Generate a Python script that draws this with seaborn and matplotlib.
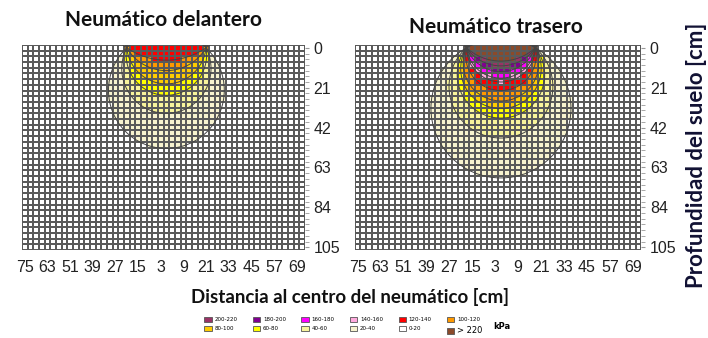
import numpy as np
import matplotlib
matplotlib.use('Agg')
import matplotlib.pyplot as plt
from matplotlib.colors import ListedColormap
from matplotlib.patches import Patch, Ellipse
import seaborn as sns

# model grid (cm): 50 columns across, 36 rows down
x_cm = np.arange(-75, 75, 3)
z_cm = np.arange(0, 108, 3)

x_ticks_cm = [-75, -63, -51, -39, -27, -15, -3, 9, 21, 33, 45, 57, 69]
x_tick_labels = ['75', '63', '51', '39', '27', '15', '3', '9', '21', '33', '45', '57', '69']
y_ticks_cm = [0, 21, 42, 63, 84, 105]

classes = ['0-20', '20-40', '40-60', '60-80', '80-100', '100-120',
           '120-140', '140-160', '160-180', '180-200', '200-220', '> 220']
class_colors = ['#ffffff', '#f7f3cf', '#f8f49c', '#ffff00', '#ffcc00', '#ff9900',
                '#ff0000', '#ffaadd', '#ff00ff', '#800090', '#993366', '#8b4a2a']

# isobars: half-width of the loaded strip and
# bottom depth of each bulb (20 kPa upward), all in cm
front_edge = 21
front_bottoms = [53, 34.5, 25, 19, 12, 6.5]
rear_edge = 18
rear_bottoms = [68.5, 47.5, 37, 32, 28, 22.5, 18, 16, 12.5, 9.5, 7]


def bulbs(edge, bottoms):
    # circle through (+-edge, 0) reaching down to the given depth
    out = []
    for b in bottoms:
        zc = (b ** 2 - edge ** 2) / (2 * b)
        out.append((zc, b - zc))
    return out


def class_grid(edge, bottoms):
    X, Z = np.meshgrid(x_cm, z_cm)
    grid = np.zeros(X.shape)
    for k, (zc, r) in enumerate(bulbs(edge, bottoms)):
        inside = X ** 2 + (Z - zc) ** 2 <= r ** 2
        grid[inside] = k + 1
    return grid


def to_col(x):
    return (x + 75) / 3 + 0.5


def to_row(z):
    return z / 3 + 0.5


cmap = ListedColormap(class_colors)

fig = plt.figure(figsize=(7.08, 3.38), dpi=100)
ax1 = fig.add_axes([0.031, 0.26, 0.40, 0.607])
ax2 = fig.add_axes([0.501, 0.26, 0.405, 0.607])

for ax, edge, bottoms in [(ax1, front_edge, front_bottoms), (ax2, rear_edge, rear_bottoms)]:
    sns.heatmap(class_grid(edge, bottoms), ax=ax, cmap=cmap, vmin=-0.5, vmax=11.5,
                cbar=False, linewidths=1.3, linecolor='#5a5a5a',
                xticklabels=False, yticklabels=False)
    for zc, r in bulbs(edge, bottoms):
        ax.add_patch(Ellipse((to_col(0), to_row(zc)), 2 * r / 3, 2 * r / 3,
                             fill=False, edgecolor='#444444', lw=0.7))
    ax.set_xticks([to_col(x) for x in x_ticks_cm])
    ax.set_xticklabels(x_tick_labels, fontsize=11.5, family='Liberation Sans')
    ax.yaxis.tick_right()
    ax.set_yticks([to_row(z) for z in y_ticks_cm])
    ax.set_yticklabels([str(z) for z in y_ticks_cm], fontsize=11.5,
                       family='Liberation Sans', rotation=0)
    ax.set_yticks([to_row(z) for z in z_cm], minor=True)
    ax.tick_params(axis='x', length=0, pad=7, colors='#222222')
    ax.tick_params(axis='y', which='both', length=3, pad=3, color='#999999',
                   labelcolor='#222222')
    ax.set_xlabel('')
    ax.set_ylabel('')

fig.text(0.231, 0.94, 'Neumático delantero', ha='center', va='center',
         fontsize=15, weight='bold', family='Lato', color='#111111')
fig.text(0.700, 0.92, 'Neumático trasero', ha='center', va='center',
         fontsize=15, weight='bold', family='Lato', color='#111111')
fig.text(0.495, 0.121, 'Distancia al centro del neumático [cm]', ha='center',
         va='center', fontsize=13.5, weight='bold', family='Lato', color='#111111')
fig.text(0.984, 0.54, 'Profundidad del suelo [cm]', ha='center', va='center',
         rotation=90, fontsize=16, weight='bold', family='Lato', color='#111133')

# legend: two rows of six, matplotlib fills columns first
row1 = [10, 9, 8, 7, 6, 5]
row2 = [4, 3, 2, 1, 0, 11]
order = [i for pair in zip(row1, row2) for i in pair]
handles = [Patch(facecolor=class_colors[i], edgecolor='#555555', lw=0.6) for i in order]
labels = [classes[i] for i in order]
leg = fig.legend(handles, labels, ncol=6, loc='center', bbox_to_anchor=(0.485, 0.036),
                 fontsize=4, frameon=False, handlelength=1.3, handleheight=1.1,
                 columnspacing=2.8, handletextpad=0.5, labelspacing=0.6)
leg.get_texts()[-1].set_fontsize(6)
fig.text(0.697, 0.034, 'kPa', ha='left', va='center', fontsize=6, weight='bold')

fig.savefig('out.png', dpi=100)
